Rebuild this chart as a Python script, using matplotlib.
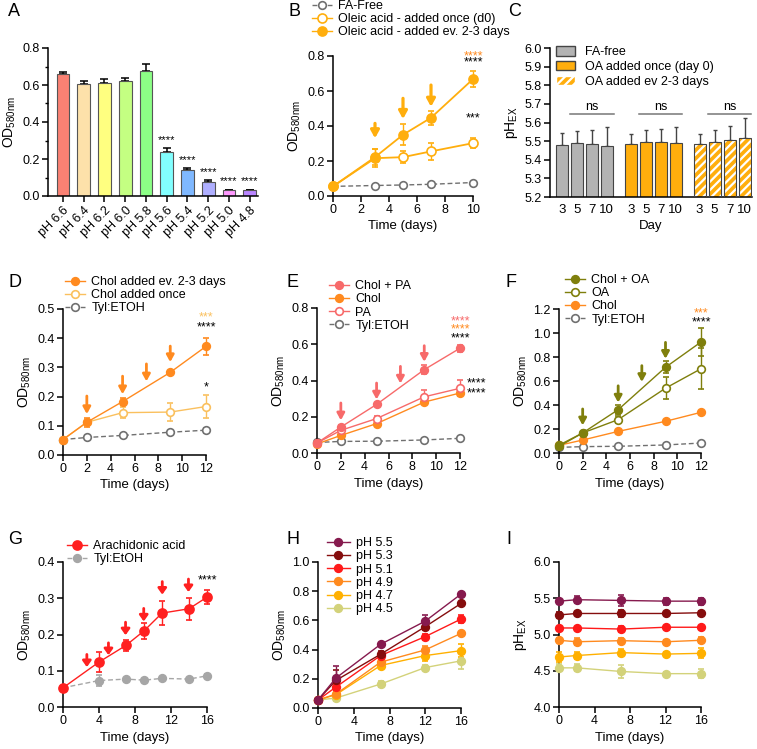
import matplotlib
matplotlib.use('Agg')
import matplotlib.pyplot as plt
from matplotlib.lines import Line2D
from matplotlib.patches import Patch
import numpy as np

plt.rcParams['font.family'] = ['Liberation Sans', 'DejaVu Sans']
plt.rcParams['mathtext.default'] = 'regular'
plt.rcParams['hatch.linewidth'] = 1.6

W, H = 757, 749

# ---------------- data ----------------
# A: OD at different pH
a_labels = ['pH 6.6', 'pH 6.4', 'pH 6.2', 'pH 6.0', 'pH 5.8',
            'pH 5.6', 'pH 5.4', 'pH 5.2', 'pH 5.0', 'pH 4.8']
a_values = [0.658, 0.603, 0.610, 0.622, 0.675, 0.237, 0.140, 0.078, 0.030, 0.030]
a_err = [0.012, 0.020, 0.020, 0.018, 0.040, 0.022, 0.010, 0.006, 0.004, 0.004]
a_colors = ['#FA8173', '#FDE1AA', '#FFFF80', '#C4FF82', '#8CFF86',
            '#82FFFF', '#7FB8FF', '#AFAFFF', '#FF99FF', '#B985FF']
a_sig = ['', '', '', '', '', '****', '****', '****', '****', '****']

# B: oleic acid
b_days = [0, 3, 5, 7, 10]
b_free = [0.055, 0.060, 0.063, 0.067, 0.077]
b_free_err = [0.004, 0.004, 0.004, 0.004, 0.005]
b_once = [0.055, 0.216, 0.222, 0.255, 0.302]
b_once_err = [0.004, 0.05, 0.035, 0.05, 0.03]
b_every = [0.055, 0.222, 0.350, 0.447, 0.668]
b_every_err = [0.004, 0.045, 0.06, 0.04, 0.045]
b_arrow_x = [3, 5, 7]
b_arrow_top = [0.415, 0.558, 0.634]
b_arrow_tip = [0.330, 0.440, 0.510]

# C: extracellular pH
c_days = ['3', '5', '7', '10']
c_free = [5.480, 5.490, 5.485, 5.475]
c_free_err = [0.062, 0.065, 0.075, 0.102]
c_once = [5.485, 5.495, 5.495, 5.490]
c_once_err = [0.055, 0.065, 0.070, 0.085]
c_every = [5.485, 5.497, 5.505, 5.515]
c_every_err = [0.055, 0.065, 0.077, 0.110]

# D: cholesterol
d_days = [0, 2, 5, 9, 12]
d_every = [0.053, 0.112, 0.183, 0.283, 0.372]
d_every_err = [0.003, 0.015, 0.012, 0.003, 0.030]
d_once = [0.053, 0.112, 0.145, 0.147, 0.166]
d_once_err = [0.003, 0.012, 0.020, 0.030, 0.040]
d_tyl = [0.053, 0.060, 0.067, 0.078, 0.085]
d_tyl_err = [0.003, 0.003, 0.004, 0.004, 0.008]
d_arrow_x = [2, 5, 7, 9]
d_arrow_top = [0.202, 0.270, 0.312, 0.373]
d_arrow_tip = [0.140, 0.208, 0.252, 0.318]

# E: cholesterol + palmitic acid
e_days = [0, 2, 5, 9, 12]
e_cholpa = [0.055, 0.143, 0.268, 0.460, 0.578]
e_cholpa_err = [0.003, 0.010, 0.010, 0.025, 0.020]
e_chol = [0.050, 0.097, 0.162, 0.281, 0.331]
e_chol_err = [0.003, 0.008, 0.010, 0.010, 0.015]
e_pa = [0.055, 0.125, 0.190, 0.310, 0.357]
e_pa_err = [0.003, 0.010, 0.015, 0.035, 0.045]
e_tyl = [0.058, 0.064, 0.065, 0.072, 0.081]
e_tyl_err = [0.003, 0.003, 0.003, 0.003, 0.004]
e_arrow_x = [2, 5, 7, 9]
e_arrow_top = [0.276, 0.386, 0.478, 0.592]
e_arrow_tip = [0.180, 0.295, 0.383, 0.503]

# F: cholesterol + oleic acid
f_days = [0, 2, 5, 9, 12]
f_cholOA = [0.065, 0.167, 0.361, 0.714, 0.925]
f_cholOA_err = [0.005, 0.010, 0.040, 0.050, 0.120]
f_OA = [0.055, 0.167, 0.278, 0.540, 0.702]
f_OA_err = [0.005, 0.010, 0.030, 0.090, 0.170]
f_chol = [0.064, 0.108, 0.180, 0.264, 0.339]
f_chol_err = [0.004, 0.005, 0.005, 0.005, 0.008]
f_tyl = [0.047, 0.053, 0.056, 0.067, 0.083]
f_tyl_err = [0.003, 0.003, 0.003, 0.004, 0.005]
f_arrow_x = [2, 5, 7, 9]
f_arrow_top = [0.367, 0.560, 0.728, 0.922]
f_arrow_tip = [0.230, 0.420, 0.592, 0.785]

# G: arachidonic acid
g_days = [0, 4, 7, 9, 11, 14, 16]
g_ara = [0.053, 0.124, 0.170, 0.210, 0.259, 0.271, 0.303]
g_ara_err = [0.003, 0.027, 0.015, 0.022, 0.033, 0.030, 0.020]
g_tyl = [0.053, 0.073, 0.077, 0.074, 0.079, 0.077, 0.086]
g_tyl_err = [0.003, 0.015, 0.004, 0.004, 0.004, 0.004, 0.004]
g_arrow_x = [2.65, 5.05, 6.95, 8.97, 11.03, 13.94]
g_arrow_top = [0.145, 0.177, 0.234, 0.272, 0.346, 0.353]
g_arrow_tip = [0.110, 0.143, 0.198, 0.236, 0.310, 0.317]

# H / I: growth and pH at different starting pH
hi_days = [0, 2, 7, 12, 16]
hi_labels = ['pH 5.5', 'pH 5.3', 'pH 5.1', 'pH 4.9', 'pH 4.7', 'pH 4.5']
hi_colors = ['#861A4E', '#850D0D', '#FF1A1A', '#FF8A1F', '#FFB000', '#D3D27A']
h_od = [[0.055, 0.205, 0.436, 0.595, 0.780],
        [0.055, 0.189, 0.368, 0.557, 0.716],
        [0.055, 0.143, 0.359, 0.489, 0.609],
        [0.055, 0.095, 0.314, 0.398, 0.511],
        [0.055, 0.091, 0.291, 0.359, 0.393],
        [0.055, 0.068, 0.164, 0.277, 0.323]]
h_err = [[0.004, 0.080, 0.010, 0.040, 0.010],
         [0.004, 0.070, 0.020, 0.020, 0.010],
         [0.004, 0.030, 0.020, 0.020, 0.025],
         [0.004, 0.020, 0.020, 0.025, 0.010],
         [0.004, 0.020, 0.020, 0.035, 0.045],
         [0.004, 0.020, 0.020, 0.020, 0.055]]
i_ph = [[5.46, 5.48, 5.47, 5.46, 5.46],
        [5.27, 5.29, 5.29, 5.29, 5.30],
        [5.09, 5.09, 5.075, 5.10, 5.10],
        [4.92, 4.90, 4.915, 4.90, 4.92],
        [4.69, 4.71, 4.75, 4.73, 4.74],
        [4.54, 4.54, 4.49, 4.46, 4.46]]
i_err = [[0.02, 0.05, 0.07, 0.05, 0.05],
         [0.04, 0.02, 0.05, 0.02, 0.02],
         [0.02, 0.02, 0.04, 0.02, 0.02],
         [0.03, 0.05, 0.03, 0.02, 0.04],
         [0.07, 0.05, 0.05, 0.03, 0.07],
         [0.05, 0.05, 0.09, 0.02, 0.06]]

ORANGE_B = '#FFAE0D'
ORANGE = '#FF8A1F'
LIGHT_OR = '#FAC05E'
SALMON = '#F76A6A'
OLIVE = '#7F7F0C'
RED = '#FF2020'
GRAY = '#707070'
LGRAY = '#A6A6A6'

FS = 9        # tick labels / legend
LFS = 10      # axis labels
SFS = 9       # significance stars

fig = plt.figure(figsize=(W / 100, H / 100), dpi=100)
fig.patch.set_facecolor('white')


def px_axes(l, t, r, b):
    return fig.add_axes([l / W, 1 - b / H, (r - l) / W, (b - t) / H])


def style(ax, yticks, ylabel, xticks=None, xlabel='Time (days)', fmt='{:.1f}'):
    for s in ['top', 'right']:
        ax.spines[s].set_visible(False)
    for s in ['left', 'bottom']:
        ax.spines[s].set_linewidth(1.1)
    ax.tick_params(direction='out', length=4, width=1.1, labelsize=FS, pad=2)
    ax.set_yticks(yticks)
    ax.set_yticklabels([fmt.format(v) for v in yticks])
    ax.set_ylim(yticks[0], yticks[-1])
    if xticks is not None:
        ax.set_xticks(xticks)
        ax.set_xlim(xticks[0], xticks[-1])
    if xlabel:
        ax.set_xlabel(xlabel, fontsize=FS + 0.5, labelpad=3)
    ax.set_ylabel(ylabel, fontsize=LFS, labelpad=3)


def series(ax, x, y, err, color, filled=True, dashed=False, lw=1.0, ms=5.5, z=3):
    ax.errorbar(x, y, yerr=err, color=color, marker='o', ms=ms,
                mfc=color if filled else 'white', mec=color, mew=1.2,
                lw=lw, ls=(0, (3.5, 2)) if dashed else '-', capsize=2.5,
                elinewidth=1, capthick=1, clip_on=False, zorder=z)


def handle(color, filled=True, dashed=False, ms=5.5):
    return Line2D([], [], color=color, marker='o', ms=ms,
                  mfc=color if filled else 'white', mec=color, mew=1.2,
                  lw=1.0, ls=(0, (3.5, 2)) if dashed else '-')


def legend(ax, handles, labels, x_px, y_px, fs=FS, hl=1.6):
    ax.legend(handles, labels, loc='upper left', frameon=False,
              bbox_to_anchor=(x_px / W, 1 - y_px / H), bbox_transform=fig.transFigure,
              borderpad=0, borderaxespad=0, fontsize=fs, handlelength=hl,
              handletextpad=0.5, labelspacing=0.1)


def arrows(ax, xs, tops, tips, color, lw=2.0, hw=0.22, hlen=0.4):
    for x, t0, t1 in zip(xs, tops, tips):
        ax.annotate('', xy=(x, t1), xytext=(x, t0),
                    arrowprops=dict(arrowstyle=f'-|>,head_width={hw},head_length={hlen}',
                                    lw=lw, color=color, shrinkA=0, shrinkB=0,
                                    mutation_scale=10), zorder=4)


def stars(ax, x, y, txt, color='black', fs=SFS, ha='center'):
    ax.text(x, y, txt, ha=ha, va='center', fontsize=fs, color=color)


# panel letters
for letter, (lx, ly) in zip('ABCDEFGHI', [(8, 12), (288, 12), (508, 12),
                                          (8, 282), (287, 282), (506, 282),
                                          (8, 540), (287, 540), (506, 540)]):
    fig.text(lx / W, 1 - ly / H, letter, fontsize=13, ha='left', va='center')

# ---------------- A ----------------
ax = px_axes(48, 48, 258, 196)
xa = np.arange(len(a_values))
ax.bar(xa, a_values, width=0.62, color=a_colors, edgecolor='#555555', linewidth=0.8, zorder=2)
ax.errorbar(xa, a_values, yerr=[np.zeros(len(a_err)), a_err], fmt='none',
            ecolor='black', elinewidth=1.1, capsize=3, capthick=1.1, zorder=1)
for xi, v, e, s in zip(xa, a_values, a_err, a_sig):
    if s:
        stars(ax, xi, v + e + 0.045, s, fs=8)
style(ax, [0.0, 0.2, 0.4, 0.6, 0.8], 'OD$_{580nm}$', xlabel=None)
ax.set_yticks(np.arange(0.1, 0.8, 0.2), minor=True)
ax.tick_params(which='minor', direction='out', length=2.5, width=1.0)
ax.set_xticks(xa)
ax.set_xticklabels(a_labels, rotation=45, ha='right', rotation_mode='anchor', fontsize=FS)
ax.set_xlim(-0.72, 9.4)
ax.yaxis.set_label_coords(-0.145, 0.5)

# ---------------- B ----------------
ax = px_axes(333, 56, 473, 196)
series(ax, b_days, b_free, b_free_err, GRAY, filled=False, dashed=True, z=2)
series(ax, b_days, b_once, b_once_err, ORANGE_B, filled=False, lw=1.3, ms=6.5)
series(ax, b_days, b_every, b_every_err, ORANGE_B, filled=True, lw=1.3, ms=6.5)
arrows(ax, b_arrow_x, b_arrow_top, b_arrow_tip, ORANGE_B, lw=2.3, hw=0.25, hlen=0.45)
stars(ax, 10, 0.795, '****', ORANGE)
stars(ax, 10, 0.762, '****')
stars(ax, 10, 0.445, '***')
style(ax, [0.0, 0.2, 0.4, 0.6, 0.8], 'OD$_{580nm}$', xticks=[0, 2, 4, 6, 8, 10])
legend(ax, [handle(GRAY, False, True), handle(ORANGE_B, False, ms=6.5), handle(ORANGE_B, True, ms=6.5)],
       ['FA-Free', 'Oleic acid - added once (d0)', 'Oleic acid - added ev. 2-3 days'],
       312, 0)

# ---------------- C ----------------
ax = px_axes(550, 48, 752, 197)
group_start = [0, 4.6, 9.2]
pos = [np.arange(4) + g for g in group_start]
ax.bar(pos[0], np.array(c_free) - 5.2, bottom=5.2, width=0.8, color='#B3B3B3',
       edgecolor='#444444', linewidth=0.8, zorder=2)
ax.bar(pos[1], np.array(c_once) - 5.2, bottom=5.2, width=0.8, color='#FFAE0D',
       edgecolor='#444444', linewidth=0.8, zorder=2)
ax.bar(pos[2], np.array(c_every) - 5.2, bottom=5.2, width=0.8, color='#FFAE0D',
       edgecolor='white', linewidth=0, hatch='////', zorder=2)
ax.bar(pos[2], np.array(c_every) - 5.2, bottom=5.2, width=0.8, fill=False,
       edgecolor='#444444', linewidth=0.8, zorder=3)
for p, vals, errs in zip(pos, [c_free, c_once, c_every], [c_free_err, c_once_err, c_every_err]):
    ax.errorbar(p, vals, yerr=[np.zeros(4), errs], fmt='none', ecolor='#444444',
                elinewidth=1, capsize=1.5, capthick=1, zorder=1)
    ax.plot([p[1] - 0.45, p[3] + 0.45], [5.645, 5.645], color='#777777', lw=1.1)
    ax.text((p[1] + p[3]) / 2, 5.685, 'ns', ha='center', va='center', fontsize=FS)
style(ax, list(np.round(np.arange(5.2, 6.01, 0.1), 1)), 'pH$_{EX}$', xlabel='Day')
ax.set_xticks(np.concatenate(pos))
ax.set_xticklabels(c_days * 3, fontsize=FS + 0.5)
ax.tick_params(axis='x', length=0, pad=5)
ax.set_xlim(-0.8, 12.7)
ax.legend([Patch(facecolor='#B3B3B3', edgecolor='#444444'),
           Patch(facecolor='#FFAE0D', edgecolor='#444444'),
           Patch(facecolor='#FFAE0D', edgecolor='white', hatch='////')],
          ['FA-free', 'OA added once (day 0)', 'OA added ev 2-3 days'],
          loc='upper left', frameon=False, bbox_to_anchor=(556 / W, 1 - 46 / H),
          bbox_transform=fig.transFigure, borderpad=0, borderaxespad=0,
          fontsize=FS, handlelength=1.5, handleheight=0.8, handletextpad=0.8,
          labelspacing=0.22)

# ---------------- D ----------------
ax = px_axes(63, 309, 206, 455)
series(ax, d_days, d_tyl, d_tyl_err, GRAY, filled=False, dashed=True, z=2)
series(ax, d_days, d_once, d_once_err, LIGHT_OR, filled=False)
series(ax, d_days, d_every, d_every_err, ORANGE, filled=True)
arrows(ax, d_arrow_x, d_arrow_top, d_arrow_tip, ORANGE)
stars(ax, 12, 0.470, '***', LIGHT_OR)
stars(ax, 12, 0.436, '****')
stars(ax, 12, 0.233, '*')
style(ax, [0.0, 0.1, 0.2, 0.3, 0.4, 0.5], 'OD$_{580nm}$', xticks=[0, 2, 4, 6, 8, 10, 12])
legend(ax, [handle(ORANGE), handle(LIGHT_OR, False), handle(GRAY, False, True)],
       ['Chol added ev. 2-3 days', 'Chol added once', 'Tyl:ETOH'], 65, 276)

# ---------------- E ----------------
ax = px_axes(317, 308, 460, 453)
series(ax, e_days, e_tyl, e_tyl_err, GRAY, filled=False, dashed=True, z=2)
series(ax, e_days, e_chol, e_chol_err, ORANGE)
series(ax, e_days, e_pa, e_pa_err, SALMON, filled=False)
series(ax, e_days, e_cholpa, e_cholpa_err, SALMON)
arrows(ax, e_arrow_x, e_arrow_top, e_arrow_tip, SALMON)
stars(ax, 12, 0.726, '****', SALMON)
stars(ax, 12, 0.680, '****', ORANGE)
stars(ax, 12, 0.632, '****')
stars(ax, 12.55, 0.383, '****', ha='left')
stars(ax, 12.55, 0.331, '****', ha='left')
style(ax, [0.0, 0.2, 0.4, 0.6, 0.8], 'OD$_{580nm}$', xticks=[0, 2, 4, 6, 8, 10, 12])
legend(ax, [handle(SALMON), handle(ORANGE), handle(SALMON, False), handle(GRAY, False, True)],
       ['Chol + PA', 'Chol', 'PA', 'Tyl:ETOH'], 329, 280)

# ---------------- F ----------------
ax = px_axes(559, 309, 701, 453)
series(ax, f_days, f_tyl, f_tyl_err, GRAY, filled=False, dashed=True, z=2)
series(ax, f_days, f_chol, f_chol_err, ORANGE)
series(ax, f_days, f_OA, f_OA_err, OLIVE, filled=False)
series(ax, f_days, f_cholOA, f_cholOA_err, OLIVE)
arrows(ax, f_arrow_x, f_arrow_top, f_arrow_tip, OLIVE)
stars(ax, 12, 1.160, '***', ORANGE)
stars(ax, 12, 1.090, '****')
style(ax, [0.0, 0.2, 0.4, 0.6, 0.8, 1.0, 1.2], 'OD$_{580nm}$', xticks=[0, 2, 4, 6, 8, 10, 12])
legend(ax, [handle(OLIVE), handle(OLIVE, False), handle(ORANGE), handle(GRAY, False, True)],
       ['Chol + OA', 'OA', 'Chol', 'Tyl:ETOH'], 565, 274)

# ---------------- G ----------------
ax = px_axes(63, 562, 207, 707)
series(ax, g_days, g_tyl, g_tyl_err, LGRAY, filled=True, dashed=True, z=2)
series(ax, g_days, g_ara, g_ara_err, RED, filled=True, ms=6.5)
arrows(ax, g_arrow_x, g_arrow_top, g_arrow_tip, RED, lw=2.0, hw=0.25, hlen=0.35)
stars(ax, 16, 0.350, '****')
style(ax, [0.0, 0.1, 0.2, 0.3, 0.4], 'OD$_{580nm}$', xticks=[0, 4, 8, 12, 16])
legend(ax, [handle(RED, ms=6.5), handle(LGRAY, True, True)], ['Arachidonic acid', 'Tyl:EtOH'], 67, 540)

# ---------------- H ----------------
ax = px_axes(318, 562, 461, 708)
for y, e, c in zip(h_od[::-1], h_err[::-1], hi_colors[::-1]):
    series(ax, hi_days, y, e, c)
style(ax, [0.0, 0.2, 0.4, 0.6, 0.8, 1.0], 'OD$_{580nm}$', xticks=[0, 4, 8, 12, 16])
legend(ax, [handle(c) for c in hi_colors], hi_labels, 327, 537, hl=1.8)

# ---------------- I ----------------
ax = px_axes(559, 562, 701, 707)
for y, e, c in zip(i_ph, i_err, hi_colors):
    series(ax, hi_days, y, e, c)
style(ax, [4.0, 4.5, 5.0, 5.5, 6.0], 'pH$_{EX}$', xticks=[0, 4, 8, 12, 16])

fig.savefig('out.png', dpi=100, facecolor='white')
